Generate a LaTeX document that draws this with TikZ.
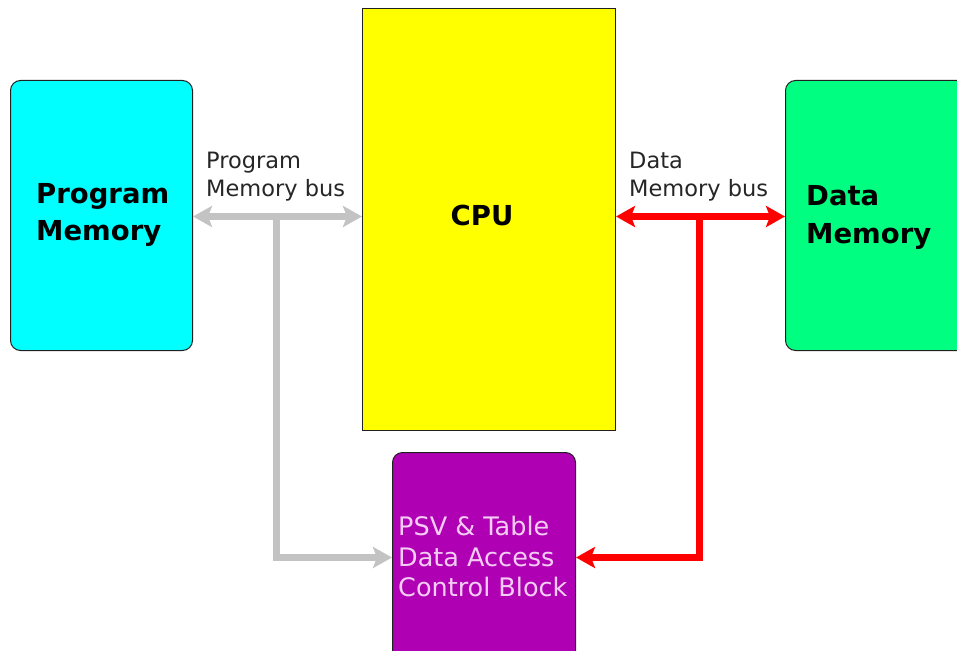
\documentclass[tikz,border=0pt]{standalone}
\usepackage{fontspec}
\setmainfont{DejaVu Sans}
\usetikzlibrary{arrows.meta}
\definecolor{pmcyan}{HTML}{00FFFF}
\definecolor{cpuyellow}{HTML}{FFFF00}
\definecolor{dmgreen}{HTML}{00FF80}
\definecolor{psvpurple}{HTML}{B000B4}
\definecolor{psvtext}{HTML}{F4CCF4}
\definecolor{busgray}{HTML}{C3C3C3}
\definecolor{busred}{HTML}{FF0000}
\definecolor{edge}{HTML}{202020}
\tikzset{
  x=1pt, y=1pt,
  block/.style={draw=edge, line width=1pt, inner sep=0pt, anchor=north west},
  roundblock/.style={block, rounded corners=10pt},
  memlabel/.style={font=\fontsize{27.5}{37.5}\selectfont\bfseries, align=left, anchor=base west, inner sep=0pt},
  buslabel/.style={font=\fontsize{22.5}{28}\selectfont, align=left, anchor=base west, inner sep=0pt, text=black!85},
  graybus/.style={draw=busgray, line width=7pt},
  redbus/.style={draw=busred, line width=7pt},
  bushead/.style={-{Stealth[length=19pt, width=21pt, inset=4pt]}},
  busboth/.style={{Stealth[length=19pt, width=21pt, inset=4pt]}-{Stealth[length=19pt, width=21pt, inset=4pt]}},
}
\begin{document}
\begin{tikzpicture}
\useasboundingbox (0,0) rectangle (957,-650);
\begin{scope}
\clip (0,0) rectangle (957,-650);

% memory and processor blocks
\node[roundblock, fill=pmcyan, minimum width=182pt, minimum height=270pt] (pm) at (10,-80) {};
\node[block, fill=cpuyellow, minimum width=253pt, minimum height=422pt] (cpu) at (362,-8) {};
\node[roundblock, fill=dmgreen, minimum width=200pt, minimum height=270pt] (dm) at (785,-80) {};
\node[roundblock, fill=psvpurple, minimum width=183pt, minimum height=215pt] (psv) at (392,-452) {};

% block labels (anchored on the baseline of the last line)
\node[memlabel] (pmtext) at (36,-240.5) {Program\\Memory};
\node[memlabel] (dmtext) at (806,-243) {Data\\Memory};
\node[font=\fontsize{27.5}{32}\selectfont\bfseries, inner sep=0pt, anchor=base] (cputext) at (482,-225) {CPU};
\node[font=\fontsize{25.5}{30.5}\selectfont, text=psvtext, align=left, anchor=base west, inner sep=0pt] (psvtext) at (398,-596.5) {PSV \& Table\\Data Access\\Control Block};

% bus labels
\node[buslabel] (pbus) at (206,-196) {Program\\Memory bus};
\node[buslabel] (dbus) at (629,-196) {Data\\Memory bus};

% junction points on the buses
\coordinate (pj) at (276,-216.5);
\coordinate (pc) at (276,-557.5);
\coordinate (dj) at (699,-216.5);
\coordinate (dc) at (699,-557.5);

% program memory bus (gray)
\draw[graybus, busboth] (pm.east |- pj) -- (cpu.west |- pj);
\draw[graybus, bushead] (pj) -- (pc) -- (psv.west |- pc);

% data memory bus (red)
\draw[redbus, busboth] (cpu.east |- dj) -- (dm.west |- dj);
\draw[redbus, bushead] (dj) -- (dc) -- (psv.east |- dc);
\end{scope}
\end{tikzpicture}
\end{document}
